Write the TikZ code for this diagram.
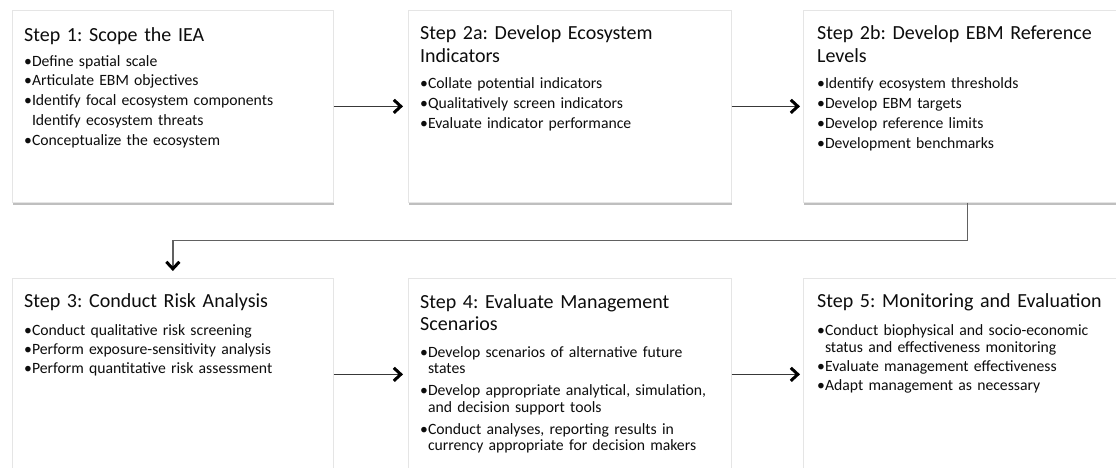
\documentclass[tikz,border=0pt]{standalone}
\usepackage{fontspec}
\setmainfont{Carlito}
\usetikzlibrary{shadows,arrows.meta,calc}
\begin{document}
\frenchspacing
\begin{tikzpicture}[x=1pt,y=-1pt,
  box/.style={draw=black!10, line width=0.7pt, fill=white, inner sep=0pt, anchor=north west,
    minimum height=192pt,
    drop shadow={shadow xshift=0.8pt,shadow yshift=-2.4pt,opacity=0.5}},
  title/.style={anchor=base west, inner sep=0pt, align=left, text=black!95,
    font=\fontsize{20}{23.5}\selectfont, text width=330pt},
  body/.style={anchor=base west, inner sep=0pt, align=left, text=black!95,
    font=\fontsize{15.7}{19.8}\selectfont, text width=360pt},
  flow/.style={draw=black!78, line width=1.3pt,
    -{Straight Barb[length=7pt,width=13pt,line width=3pt,color=black]}},
  link/.style={flow, draw=black!62, line width=1.4pt}
]
\useasboundingbox (0,0) rectangle (1116,467);
\clip (0,0) rectangle (1116,467);

% boxes
\node[box, minimum width=321pt] (s1)  at (12,10)  {};
\node[box, minimum width=323pt] (s2a) at (408,10) {};
\node[box, minimum width=328pt] (s2b) at (803,10) {};
\node[box, minimum width=321pt] (s3)  at (12,278) {};
\node[box, minimum width=323pt] (s4)  at (408,278) {};
\node[box, minimum width=328pt] (s5)  at (803,278) {};

% texts row 1
\node[title] (t1) at (24,41) {Step 1: Scope the IEA};
\node[body] (b1) at (24,66) {•Define spatial scale\\
•Articulate EBM objectives\\
•Identify focal ecosystem components\\
\phantom{•}Identify ecosystem threats\\
•Conceptualize the ecosystem};

\node[title] (t2a) at (420,39) {Step 2a: Develop Ecosystem\\Indicators};
\node[body, font=\fontsize{15.7}{20}\selectfont] (b2a) at (420,88) {•Collate potential indicators\\
•Qualitatively screen indicators\\
•Evaluate indicator performance};

\node[title] (t2b) at (817,39) {Step 2b: Develop EBM Reference\\Levels};
\node[body, font=\fontsize{15.7}{20.2}\selectfont] (b2b) at (817,88) {•Identify ecosystem thresholds\\
•Develop EBM targets\\
•Develop reference limits\\
•Development benchmarks};

% texts row 2
\node[title] (t3) at (24,307) {Step 3: Conduct Risk Analysis};
\node[body, font=\fontsize{15.7}{19}\selectfont] (b3) at (24,335) {•Conduct qualitative risk screening\\
•Perform exposure-sensitivity analysis\\
•Perform quantitative risk assessment};

\node[title, font=\fontsize{20}{22}\selectfont] (t4) at (420,308) {Step 4: Evaluate Management\\Scenarios};
\node[body, font=\fontsize{15.7}{16.5}\selectfont] (b4) at (420,357) {•Develop scenarios of alternative future\\
\phantom{•}states\\[5.5pt]
•Develop appropriate analytical, simulation,\\
\phantom{•}and decision support tools\\[5.5pt]
•Conduct analyses, reporting results in\\
\phantom{•}currency appropriate for decision makers};

\node[title] (t5) at (817,307) {Step 5: Monitoring and Evaluation};
\node[body, font=\fontsize{15.7}{17}\selectfont] (b5) at (817,335) {•Conduct biophysical and socio-economic\\
\phantom{•}status and effectiveness monitoring\\[2pt]
•Evaluate management effectiveness\\[2pt]
•Adapt management as necessary};

% connectors
\draw[flow, shorten >=5pt] (s1.east) -- (s2a.west);
\draw[flow, shorten >=3pt] (s2a.east) -- (s2b.west);
\draw[link, shorten >=7pt] (s2b.south) -- ++(0,38) -| (s3.north);
\draw[flow, shorten >=5pt] (s3.east) -- (s4.west);
\draw[flow, shorten >=3pt] (s4.east) -- (s5.west);
\end{tikzpicture}
\end{document}
